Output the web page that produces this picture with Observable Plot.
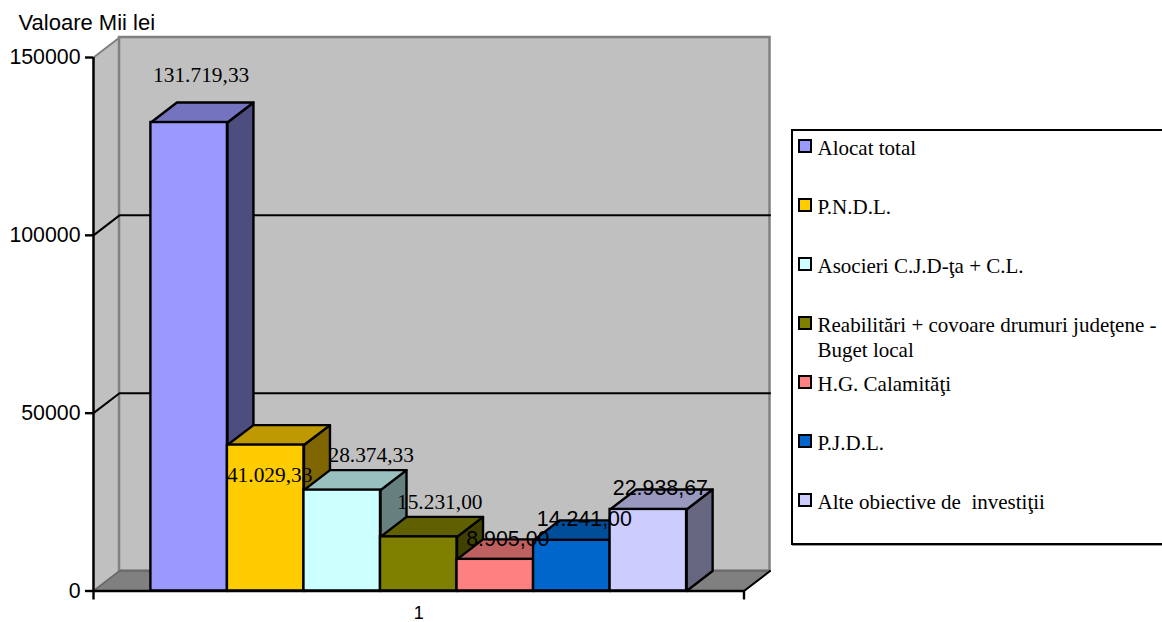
<!DOCTYPE html>
<html lang="ro">
<head>
<meta charset="utf-8">
<script src="https://cdn.jsdelivr.net/npm/d3@7"></script>
<script src="https://cdn.jsdelivr.net/npm/@observablehq/plot@0.6"></script>
<style>
html,body{margin:0;padding:0;background:#fff;width:1162px;height:622px;overflow:hidden;}
#page{position:relative;width:1162px;height:622px;overflow:hidden;}
#chart svg{display:block;}
#legend{position:absolute;left:790.5px;top:128.5px;width:420px;height:412px;border:2.5px solid #000;box-shadow:1px 1px 0 #999;background:#fff;box-sizing:content-box;font-family:"Liberation Serif",serif;font-size:21px;line-height:25px;color:#000;}
.row{position:absolute;left:5px;height:25px;}
.sw{position:absolute;left:0;top:2px;width:10px;height:10px;border:2.5px solid #000;}
.lab{position:absolute;left:20px;top:-1px;width:341px;white-space:pre-wrap;}
</style>
</head>
<body>
<div id="page"><div id="chart"></div><div id="legend"></div></div>
<script>
const seriesNames = ["Alocat total","P.N.D.L.","Asocieri C.J.D-ţa + C.L.","Reabilitări + covoare drumuri judeţene - Buget local","H.G. Calamităţi","P.J.D.L.","Alte obiective de  investiţii"];
const seriesValues = [131719.33,41029.33,28374.33,15231.00,8905.00,14241.00,22938.67];
const seriesColors = ["#9999FF","#FFCC00","#CCFFFF","#808000","#FF8080","#0066CC","#CCCCFF"];
const yTicks = [0,50000,100000,150000];
const gridValues = [50000,100000];
const categoryLabel = "1";
const yTitle = "Valoare Mii lei";
// hand placement and face of the value labels, as in the original chart
const labelDx = [12,4,29,21,12.5,12.5,12];
const labelDy = [-47,30,-35,-35,-20,-21,-21];
const labelSans = [false,false,false,false,true,true,true];

const gap = 0.75, xMax = 8.5, depthX = 0.34, depthY = 5618, yMax = 150000;
const shade = (c,k) => { const r = d3.rgb(c); return d3.rgb(r.r*k,r.g*k,r.b*k).formatHex(); };
const fmt = d3.formatLocale({decimal:",",thousands:".",grouping:[3],currency:["",""]}).format(",.2f");
const sans = "'Liberation Sans',Arial,sans-serif", serif = "'Liberation Serif',serif";
const poly = (pts,o) => Plot.line(pts,{x:"0",y:"1",curve:"linear-closed",strokeLinejoin:"round",...o});

const bars = seriesValues.flatMap((v,i)=>{
  const x1 = gap+i, x2 = x1+1, c = seriesColors[i];
  return [
    poly([[x2,0],[x2+depthX,depthY],[x2+depthX,v+depthY],[x2,v]],{fill:shade(c,0.5),stroke:"#000",strokeWidth:2.4}),
    poly([[x1,v],[x1+depthX,v+depthY],[x2+depthX,v+depthY],[x2,v]],{fill:shade(c,0.75),stroke:"#000",strokeWidth:2.4}),
    Plot.rect([{x1,x2,y1:0,y2:v}],{x1:"x1",x2:"x2",y1:"y1",y2:"y2",fill:c,stroke:"#000",strokeWidth:2.4})
  ];
});
const labels = seriesValues.map((v,i)=>Plot.text([v],{
  x:()=>gap+i+0.5,y:d=>d,text:d=>fmt(d),dx:labelDx[i],dy:labelDy[i],
  fontFamily:labelSans[i]?sans:serif,fontSize:21.4,fill:"#000",lineAnchor:"middle"
}));

const plot = Plot.plot({
  width:1162,height:622,
  marginLeft:93,marginRight:418.5,marginTop:57,marginBottom:31.5,
  x:{type:"linear",domain:[0,xMax]},
  y:{type:"linear",domain:[0,yMax]},
  marks:[
    poly([[0,0],[depthX,depthY],[depthX,yMax+depthY],[0,yMax]],{fill:"#C0C0C0",stroke:"#808080",strokeWidth:2}),
    Plot.rect([{x1:depthX,x2:xMax+depthX,y1:depthY,y2:yMax+depthY}],{x1:"x1",x2:"x2",y1:"y1",y2:"y2",fill:"#C0C0C0",stroke:"#808080",strokeWidth:2.5}),
    ...gridValues.map(g=>Plot.line([[0,g],[depthX,g+depthY],[xMax+depthX,g+depthY]],{x:"0",y:"1",stroke:"#000",strokeWidth:2})),
    poly([[0,0],[depthX,depthY],[xMax+depthX,depthY],[xMax,0]],{fill:"#808080",stroke:"#666",strokeWidth:1.5}),
    Plot.line([[xMax,0],[xMax+depthX,depthY]],{x:"0",y:"1",stroke:"#000",strokeWidth:2}),
    ...bars,
    Plot.ruleX([0],{y1:0,y2:yMax,stroke:"#000",strokeWidth:2.4}),
    Plot.ruleY([0],{x1:0,x2:xMax,stroke:"#000",strokeWidth:2.4}),
    Plot.axisY({ticks:yTicks,tickFormat:d=>String(d),tickSize:8,tickPadding:5,label:null,strokeWidth:2.4,stroke:"#000",fontFamily:sans,fontSize:21.3,fill:"#000"}),
    Plot.axisX({ticks:[0,xMax],tickFormat:()=>"",tickSize:9,label:null,strokeWidth:2.4,stroke:"#000"}),
    Plot.axisX({ticks:[xMax/2],tickFormat:()=>categoryLabel,tickSize:0,tickPadding:15,label:null,fontFamily:sans,fontSize:18,fill:"#000"}),
    ...labels,
    Plot.text([yTitle],{frameAnchor:"top-left",dx:-75,dy:-35,textAnchor:"start",lineAnchor:"middle",fontFamily:sans,fontSize:22,fill:"#000"})
  ]
});
document.getElementById("chart").append(plot);

const legend = document.getElementById("legend");
seriesNames.forEach((name,i)=>{
  const row = document.createElement("div");
  row.className = "row";
  row.style.top = (6+i*59)+"px";
  const sw = document.createElement("div");
  sw.className = "sw"; sw.style.background = seriesColors[i];
  const lab = document.createElement("div");
  lab.className = "lab"; lab.textContent = name;
  row.append(sw,lab); legend.append(row);
});
</script>
</body>
</html>
